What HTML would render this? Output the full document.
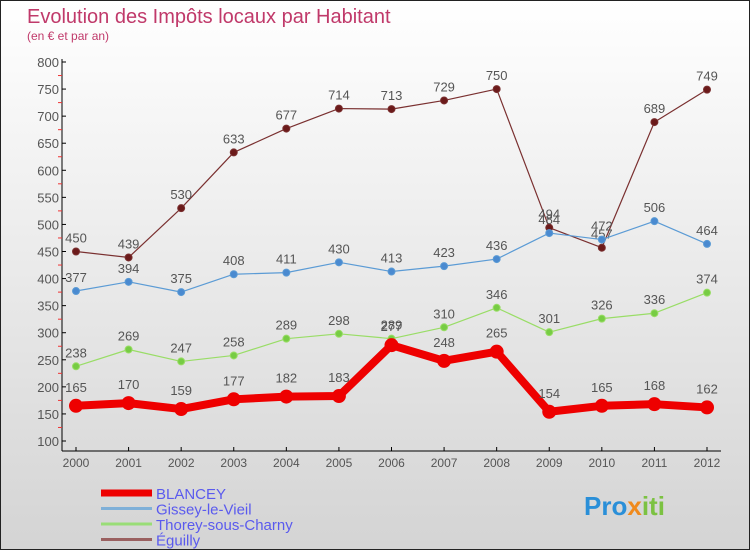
<!DOCTYPE html>
<html><head><meta charset="utf-8"><style>
body{margin:0}
#c{width:750px;height:550px;position:relative;overflow:hidden;box-sizing:border-box;border:1px solid #222;background:linear-gradient(#ffffff,#d4d4d4);font-family:"Liberation Sans",sans-serif}
svg{position:absolute;left:0;top:0}
</style></head><body>
<div id="c">
<svg id="s" width="750" height="550">
<text x="26" y="22" font-size="20" fill="#c0396a">Evolution des Impôts locaux par Habitant</text>
<text x="26" y="39" font-size="12" fill="#c0396a">(en € et par an)</text>
</svg>
</div>
<script>
const years=[2000,2001,2002,2003,2004,2005,2006,2007,2008,2009,2010,2011,2012];
const blancey=[165,170,159,177,182,183,277,248,265,154,165,168,162];
const gissey=[377,394,375,408,411,430,413,423,436,484,472,506,464];
const thorey=[238,269,247,258,289,298,289,310,346,301,326,336,374];
const eguilly=[450,439,530,633,677,714,713,729,750,494,457,689,749];
const yTicks=[100,150,200,250,300,350,400,450,500,550,600,650,700,750,800];
const seriesNames=["BLANCEY","Gissey-le-Vieil","Thorey-sous-Charny","Éguilly"];
const NS="http://www.w3.org/2000/svg";
const svg=document.getElementById('s');
const xs=i=>75+i*(706-75)/12;
const ys=v=>440-(v-100)*(440-61)/700;
function mk(t,a,p){const e=document.createElementNS(NS,t);for(const k in a)e.setAttribute(k,a[k]);(p||svg).appendChild(e);return e;}
let ax=mk('line',{x1:61,y1:58,x2:61,y2:450,stroke:'#000'});


let xa=mk('line',{x1:61,y1:450,x2:720,y2:450,stroke:'#000'});


yTicks.forEach(v=>{
  mk('line',{x1:61,y1:ys(v),x2:65,y2:ys(v),stroke:'#000'});
  if(v<800) mk('line',{x1:57,y1:ys(v+25),x2:61,y2:ys(v+25),stroke:'#e33'});
  const t=mk('text',{x:58,y:ys(v)+5,'font-size':13,fill:'#555','text-anchor':'end'});
  t.textContent=v;
  
  
});
years.forEach((y,i)=>{
  mk('line',{x1:xs(i),y1:446,x2:xs(i),y2:450,stroke:'#000'});
  const t=mk('text',{x:xs(i),y:466,'font-size':12,fill:'#555','text-anchor':'middle'});
  t.textContent=y;
  
  
});
function series(data,color,w,r,dot,name,off){
  const g=mk('g',{});
  
  
  mk('polyline',{points:data.map((v,i)=>xs(i)+','+ys(v)).join(' '),fill:'none',stroke:color,'stroke-width':w,'stroke-linejoin':'round'},g);
  data.forEach((v,i)=>{
    const c=mk('circle',{cx:xs(i),cy:ys(v),r:r,fill:dot,stroke:color,'stroke-width':1},g);
    
    
    const t=mk('text',{x:xs(i),y:ys(v)-off,'font-size':13,fill:'#555','text-anchor':'middle'},g);
    t.textContent=v;
    
    
  });
}
series(eguilly,'#7a3030',1.2,3.5,'#6b1a1a','series-eguilly',9);
series(gissey,'#5b9bd5',1.2,3.5,'#4a8ad0','series-gissey',9);
series(thorey,'#99dd66',1.2,3.5,'#77cc44','series-thorey',9);
series(blancey,'#ee0000',8,6.5,'#ee0000','series-blancey',14);
const lc=['#ee0000','#7fb0d8','#99dd77','#9a6060'],lw=[7,3,3,3];
seriesNames.forEach((n,i)=>{
  const y=492+i*15.5;
  const l=mk('line',{x1:100,y1:y,x2:151,y2:y,stroke:lc[i],'stroke-width':lw[i]});
  
  
  const t=mk('text',{x:155,y:y+6,'font-size':15,fill:'#5a5aee'});
  t.textContent=n;
  
  
});
const lg=mk('text',{x:583,y:514,'font-size':26,'font-weight':'bold',fill:'#2a8fd8'});


lg.innerHTML='Pro<tspan fill="#f08a1c">x</tspan><tspan fill="#7cc242">iti</tspan>';
</script>
</body></html>
